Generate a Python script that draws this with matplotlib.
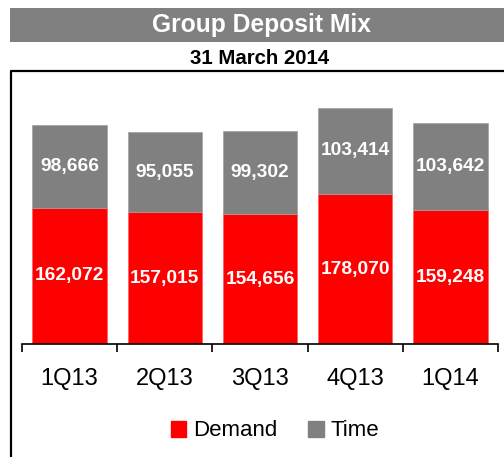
import matplotlib
matplotlib.use("Agg")
import matplotlib.pyplot as plt
from matplotlib.lines import Line2D
from matplotlib.patches import Rectangle
import numpy as np

plt.rcParams['font.family'] = ['Liberation Sans', 'DejaVu Sans']

quarters = ['1Q13', '2Q13', '3Q13', '4Q13', '1Q14']
demand = [162072, 157015, 154656, 178070, 159248]
time_dep = [98666, 95055, 99302, 103414, 103642]

red = '#FF0000'
grey = '#808080'

W, H = 504, 457
fig = plt.figure(figsize=(W / 100, H / 100), dpi=100)

# title bar
fig.patches.append(Rectangle((10 / W, 1 - 42 / H), 1, 34 / H, transform=fig.transFigure,
                             facecolor=grey, edgecolor='none', zorder=0))
fig.text(261 / W, 1 - 25 / H, 'Group Deposit Mix', color='white', fontsize=17.7,
         fontweight='bold', ha='center', va='center')
fig.text(260 / W, 1 - 58 / H, '31 March 2014', color='black', fontsize=14.7,
         fontweight='bold', ha='center', va='center')

# frame (top and left edges only visible)
fig.lines.append(Line2D([11 / W, 11 / W, 1], [0, 1 - 71 / H, 1 - 71 / H],
                        transform=fig.transFigure, color='black', lw=1.6))

ax = fig.add_axes([22 / W, 113 / H, 476 / W, 252 / H])
x = np.arange(len(quarters))
width = 0.78
ax.bar(x, demand, width, color=red, edgecolor='#FF6060', linewidth=0.5, label='Demand')
ax.bar(x, time_dep, width, bottom=demand, color=grey, edgecolor='#A0A0A0',
       linewidth=0.5, label='Time')

for i in range(len(quarters)):
    ax.text(x[i], demand[i] / 2, f'{demand[i]:,}', color='white', fontsize=13.8,
            fontweight='bold', ha='center', va='center')
    ax.text(x[i], demand[i] + time_dep[i] / 2, f'{time_dep[i]:,}', color='white',
            fontsize=13.8, fontweight='bold', ha='center', va='center')

ax.set_xlim(-0.5, len(quarters) - 0.5)
ax.set_ylim(0, 300000)
ax.set_yticks([])
for s in ['top', 'right', 'left']:
    ax.spines[s].set_visible(False)
ax.spines['bottom'].set_linewidth(1.2)
ax.set_xticks(x)
ax.set_xticklabels(quarters, fontsize=17)
ax.tick_params(axis='x', which='major', length=0, pad=17)
ax.set_xticks(np.arange(-0.5, len(quarters), 1.0), minor=True)
ax.tick_params(axis='x', which='minor', length=6, width=1.2, direction='out')

handles = [Rectangle((0, 0), 1, 1, color=red), Rectangle((0, 0), 1, 1, color=grey)]
fig.legend(handles, ['Demand', 'Time'], loc='center', bbox_to_anchor=(275 / W, 1 - 431 / H),
           ncol=2, frameon=False, fontsize=16, handlelength=0.7, handleheight=0.7,
           handletextpad=0.3, columnspacing=1.4)

fig.savefig('out.png', dpi=100)
